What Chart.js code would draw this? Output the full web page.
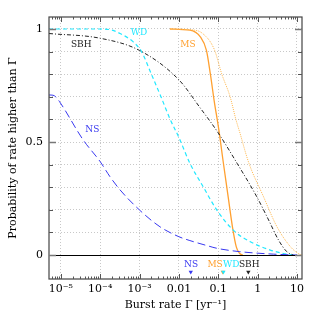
<!DOCTYPE html>
<html>
<head>
<meta charset="utf-8">
<script src="https://cdn.jsdelivr.net/npm/chart.js@4.4.0/dist/chart.umd.min.js"></script>
<style>
  html, body { margin: 0; padding: 0; background: #fff; }
  #wrap { width: 319px; height: 319px; }
</style>
</head>
<body>
<div id="wrap"><canvas id="rateChart"></canvas></div>
<script>
// burst rate [yr^-1] vs probability of a rate higher than Gamma
const wdRate = [5e-6, 1e-4, 2e-4, 3.2e-4, 6.8e-4, 1.12e-3, 2e-3, 3.5e-3, 6e-3, 0.01, 0.019, 0.042, 0.091, 0.24, 0.65, 2.1, 5.5, 9];
const wdProb = [1.0, 1.0, 0.995, 0.98, 0.944, 0.90, 0.80, 0.70, 0.60, 0.52, 0.406, 0.30, 0.20, 0.11, 0.059, 0.022, 0.004, 0.0];

const sbhRate = [5e-6, 1e-4, 1e-3, 0.01, 0.035, 0.1, 0.3, 0.95, 1.9, 3.4, 5.5, 8];
const sbhProb = [0.98, 0.959, 0.905, 0.775, 0.65, 0.54, 0.406, 0.258, 0.155, 0.066, 0.015, 0.0];

const msRate = [5.9e-3, 0.019, 0.035, 0.05, 0.063, 0.079, 0.102, 0.135, 0.178, 0.229, 0.288, 0.347, 0.417];
const msProb = [1.0, 0.995, 0.965, 0.905, 0.80, 0.68, 0.56, 0.406, 0.258, 0.125, 0.035, 0.008, 0.0];

const msAltRate = [5.9e-3, 0.019, 0.04, 0.079, 0.123, 0.2, 0.28, 0.355, 0.59, 1.41, 3.1, 6.8, 11.2, 13.4];
const msAltProb = [1.0, 0.997, 0.98, 0.91, 0.80, 0.70, 0.60, 0.54, 0.41, 0.258, 0.125, 0.037, 0.005, 0.0];

const nsRate = [5e-6, 6.3e-6, 7.4e-6, 9.3e-6, 3.7e-5, 1e-4, 1.78e-4, 3.2e-4, 1e-3, 3.3e-3, 0.01, 0.019, 0.056, 0.091, 0.35, 2.5, 10];
const nsProb = [0.708, 0.707, 0.70, 0.678, 0.509, 0.413, 0.346, 0.288, 0.199, 0.125, 0.081, 0.064, 0.04, 0.03, 0.015, 0.004, 0.0];

// typical rates marked with triangles at the bottom
const markerNames = ['NS', 'MS', 'WD', 'SBH'];
const markerRates = [0.02, 0.13, 0.135, 0.58];

const xTickValues = [1e-5, 1e-4, 1e-3, 0.01, 0.1, 1, 10];
const xTickLabels = ['10\u207b\u2075', '10\u207b\u2074', '10\u207b\u00b3', '0.01', '0.1', '1', '10'];
const yTickValues = [0, 0.1, 0.2, 0.3, 0.4, 0.5, 0.6, 0.7, 0.8, 0.9, 1.0];
const yTickLabels = ['0', '', '', '', '', '0.5', '', '', '', '', '1'];

const colors = { WD: '#22e8ff', SBH: '#222222', MS: '#ffa030', MSalt: '#ffb850', NS: '#3838f0' };
const FONT = '"DejaVu Serif", serif';

const toPoints = (xs, ys) => xs.map((x, i) => ({ x: x, y: ys[i] }));

// series name labels inside the plot
const curveLabels = [
    { text: 'WD', color: colors.WD, x: 9.7e-4, y: 0.982 },
    { text: 'SBH', color: colors.SBH, x: 3.3e-5, y: 0.931 },
    { text: 'MS', color: colors.MS, x: 0.017, y: 0.929 },
    { text: 'NS', color: colors.NS, x: 6.3e-5, y: 0.553 }
];
const markerLabelX = [0.0204, 0.083, 0.212, 0.61];
const markerLevel = -0.075;
const markerTextLevel = -0.044;

const framePlugin = {
    id: 'frame',
    afterDatasetsDraw(chart) {
        const { ctx, chartArea: a, scales: { x, y } } = chart;
        ctx.save();

        // zero line
        ctx.strokeStyle = '#000';
        ctx.lineWidth = 1;
        const y0 = Math.round(y.getPixelForValue(0)) + 0.5;
        ctx.beginPath();
        ctx.moveTo(a.left, y0);
        ctx.lineTo(a.right, y0);
        ctx.stroke();

        // frame
        ctx.strokeStyle = '#444';
        ctx.lineWidth = 1.2;
        ctx.strokeRect(a.left, a.top, a.right - a.left, a.bottom - a.top);

        // x ticks (inward, top and bottom)
        ctx.lineWidth = 1;
        ctx.strokeStyle = '#555';
        for (let d = -6; d <= 1; d++) {
            for (let m = 1; m <= 9; m++) {
                const v = m * Math.pow(10, d);
                if (v < x.min || v > x.max) continue;
                const px = Math.round(x.getPixelForValue(v)) + 0.5;
                const len = m === 1 ? 5 : 2.5;
                ctx.beginPath();
                ctx.moveTo(px, a.bottom);
                ctx.lineTo(px, a.bottom - len);
                ctx.moveTo(px, a.top);
                ctx.lineTo(px, a.top + len);
                ctx.stroke();
            }
        }
        // y ticks (inward, left and right)
        yTickValues.forEach((v, i) => {
            const py = Math.round(y.getPixelForValue(v)) + 0.5;
            const major = yTickLabels[i] !== '';
            const len = major ? 7 : 4;
            ctx.lineWidth = major ? 1.5 : 1;
            ctx.strokeStyle = major ? '#777' : '#555';
            ctx.beginPath();
            ctx.moveTo(a.left, py);
            ctx.lineTo(a.left + len, py);
            ctx.moveTo(a.right, py);
            ctx.lineTo(a.right - len, py);
            ctx.stroke();
        });

        // labels
        ctx.font = '9px ' + FONT;
        ctx.textAlign = 'center';
        ctx.textBaseline = 'middle';
        curveLabels.forEach(l => {
            ctx.fillStyle = l.color;
            ctx.fillText(l.text, x.getPixelForValue(l.x), y.getPixelForValue(l.y));
        });
        markerNames.forEach((n, i) => {
            ctx.fillStyle = colors[n];
            ctx.fillText(n, x.getPixelForValue(markerLabelX[i]), y.getPixelForValue(markerTextLevel));
        });
        ctx.restore();
    }
};

const lineSet = (label, pts, color, dash, width) => ({
    label: label,
    data: pts,
    borderColor: color,
    borderWidth: width,
    borderDash: dash,
    pointRadius: 0,
    fill: false,
    cubicInterpolationMode: 'monotone'
});

new Chart(document.getElementById('rateChart'), {
    type: 'line',
    data: {
        datasets: [
            lineSet('NS', toPoints(nsRate, nsProb), colors.NS, [8, 4], 1),
            lineSet('MS alt', toPoints(msAltRate, msAltProb), colors.MSalt, [1, 1], 1),
            lineSet('SBH', toPoints(sbhRate, sbhProb), colors.SBH, [4, 2, 1, 2], 1),
            lineSet('WD', toPoints(wdRate, wdProb), colors.WD, [4, 3], 1.2),
            lineSet('MS', toPoints(msRate, msProb), colors.MS, [], 1.3),
            {
                label: 'markers',
                data: markerRates.map(r => ({ x: r, y: markerLevel })),
                showLine: false,
                pointStyle: 'triangle',
                rotation: 180,
                pointRadius: 2.5,
                pointBorderWidth: 0,
                pointBackgroundColor: markerNames.map(n => colors[n]),
                pointBorderColor: markerNames.map(n => colors[n])
            }
        ]
    },
    options: {
        responsive: true,
        maintainAspectRatio: false,
        animation: false,
        events: [],
        layout: { padding: { top: 17, right: 17, left: 0, bottom: 0 } },
        plugins: { legend: { display: false }, tooltip: { enabled: false } },
        scales: {
            x: {
                type: 'logarithmic',
                min: 5e-6,
                max: 13.4,
                afterBuildTicks: s => { s.ticks = xTickValues.map(v => ({ value: v })); },
                afterFit: s => { s.height = 40; },
                ticks: {
                    autoSkip: false,
                    maxRotation: 0,
                    padding: 4,
                    color: '#000',
                    font: { family: FONT, size: 11 },
                    callback: (v, i) => xTickLabels[i]
                },
                grid: { color: '#c8c8c8', lineWidth: 1, drawTicks: false },
                border: { display: false, dash: [1, 2] },
                title: {
                    display: true,
                    text: 'Burst rate \u0393 [yr\u207b\u00b9]',
                    color: '#000',
                    font: { family: FONT, size: 11 },
                    padding: { top: 0, bottom: 7 }
                }
            },
            y: {
                type: 'linear',
                min: -0.106,
                max: 1.053,
                afterBuildTicks: s => { s.ticks = yTickValues.map(v => ({ value: v })); },
                afterFit: s => { s.width = 49; },
                ticks: {
                    autoSkip: false,
                    padding: 6,
                    color: '#000',
                    font: { family: FONT, size: 11 },
                    callback: (v, i) => yTickLabels[i]
                },
                grid: { color: '#c8c8c8', lineWidth: 1, drawTicks: false },
                border: { display: false, dash: [1, 2] },
                title: {
                    display: true,
                    text: 'Probability of rate higher than \u0393',
                    color: '#000',
                    font: { family: FONT, size: 11 },
                    padding: { top: 7, bottom: 0 }
                }
            }
        }
    },
    plugins: [framePlugin]
});
</script>
</body>
</html>
